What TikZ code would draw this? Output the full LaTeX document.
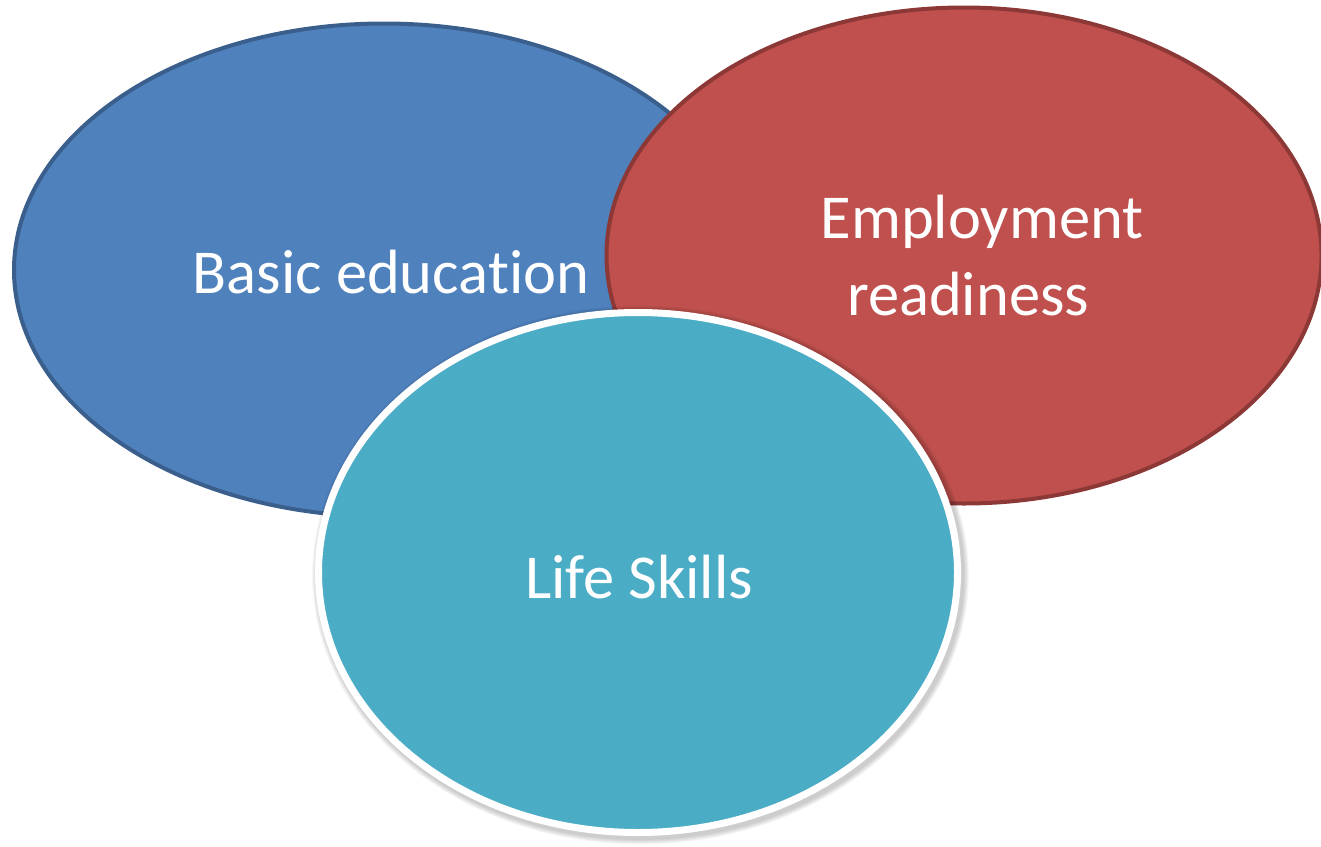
\documentclass[tikz,border=0pt]{standalone}
\usepackage{fontspec}
\setmainfont{Carlito}[Ligatures={NoCommon,NoRare}]
\definecolor{bluefill}{HTML}{4F81BD}
\definecolor{blueline}{HTML}{3A5F8C}
\definecolor{redfill}{HTML}{C0504D}
\definecolor{redline}{HTML}{8C3836}
\definecolor{aquafill}{HTML}{4BACC6}
\tikzset{
  lbl/.style={text=white, font=\fontsize{62.5bp}{77bp}\selectfont, inner sep=0pt, align=center},
}
\begin{document}
\begin{tikzpicture}[x=1bp,y=-1bp]
\useasboundingbox (0,0) rectangle (1321,846);
% blue ellipse
\fill[bluefill] (384,270) ellipse [x radius=370, y radius=246.5];
\draw[blueline, line width=4bp] (384,270) ellipse [x radius=370, y radius=246.5];
% red ellipse
\fill[redfill] (964,255.5) ellipse [x radius=357.5, y radius=248];
\draw[redline, line width=4bp] (964,255.5) ellipse [x radius=357.5, y radius=248];
% shadow of life skills
\foreach \i in {1,...,6}{
  \fill[black, opacity=0.035] (640.5,575) ellipse [x radius={323+\i*0.9}, y radius={264+\i*0.9}];
}
% life skills ellipse
\fill[aquafill] (638,572.5) ellipse [x radius=319.5, y radius=260];
\draw[white, line width=7bp] (638,572.5) ellipse [x radius=319.5, y radius=260];
% labels
\node[lbl, anchor=base] (basic) at (391,293.5) {Basic education};
\node[lbl, anchor=base] (employ) at (982,315) {Employment\\readiness\hspace*{28bp}};
\node[lbl, anchor=base] (life) at (639,598) {Life Skills};
\end{tikzpicture}
\end{document}
